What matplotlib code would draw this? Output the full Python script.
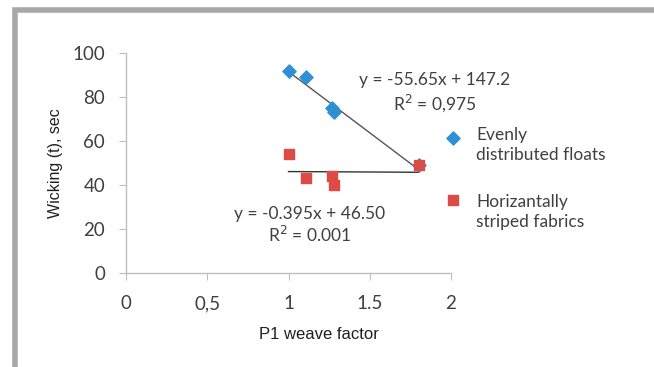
import matplotlib
matplotlib.use('Agg')
import matplotlib.pyplot as plt
from matplotlib.patches import Rectangle

# data
x_even = [1.00, 1.11, 1.27, 1.28, 1.80]
y_even = [92, 89, 75, 73, 49]
x_horiz = [1.00, 1.11, 1.27, 1.28, 1.80]
y_horiz = [54, 43, 44, 40, 49]

# trendline coefficients as printed on the chart
fit_even = (-55.65, 147.2)
fit_horiz = (-0.395, 46.50)
fit_range = [1.0, 1.8]

series_labels = ['Evenly\ndistributed floats', 'Horizantally\nstriped fabrics']
xticks = [0, 0.5, 1, 1.5, 2]
xtick_labels = ['0', '0,5', '1', '1.5', '2']
yticks = [0, 20, 40, 60, 80, 100]

BLUE = '#2f8fd3'
RED = '#dd4b45'
GREY = '#bfbfbf'
TXT = '#404040'
CAL = ['Lato', 'DejaVu Sans']
ARIAL = ['Liberation Sans', 'DejaVu Sans']

fig = plt.figure(figsize=(6.54, 3.67), dpi=100)

# outer grey frame (open at the bottom)
fig.patches.append(Rectangle((15 / 654, -0.05), (654 - 15) / 654 + 0.05, 1 - 9.5 / 367 + 0.05,
                             transform=fig.transFigure, fill=False,
                             edgecolor='#a8a8a8', linewidth=4.0))

ax = fig.add_axes([126 / 654, 1 - 273 / 367, 325 / 654, 220 / 367])
ax.set_xlim(0, 2)
ax.set_ylim(0, 100)

for (m, b), col in [(fit_even, '#555555'), (fit_horiz, '#333333')]:
    ys = [m * v + b for v in fit_range]
    ax.plot(fit_range, ys, color=col, lw=1.0, zorder=2)

ax.scatter(x_even, y_even, marker='D', s=45, color=BLUE, zorder=3)
ax.scatter(x_horiz, y_horiz, marker='s', s=45, color=RED, zorder=3)

eq_kw = dict(fontsize=12.5, family=CAL, color=TXT, ha='center', va='center')
ax.text(1.90, 87.7, 'y = -55.65x + 147.2', **eq_kw)
ax.text(1.90, 77.3, 'R$^2$ = 0,975', **eq_kw)
ax.text(1.13, 26.8, 'y = -0.395x + 46.50', **eq_kw)
ax.text(1.13, 17.5, 'R$^2$ = 0.001', **eq_kw)

# legend drawn by hand: marker level with the first line, as in Excel
for ym, yt, mk, col, lab in [(0.614, 0.614, 'D', BLUE, series_labels[0]),
                             (0.332, 0.309, 's', RED, series_labels[1])]:
    ax.scatter([1.006], [ym], marker=mk, s=45, color=col, transform=ax.transAxes, clip_on=False)
    ax.text(1.077, yt + 0.05, lab, transform=ax.transAxes, fontsize=12.5, family=CAL,
            color=TXT, ha='left', va='top', linespacing=1.3)

for s in ['top', 'right']:
    ax.spines[s].set_visible(False)
for s in ['left', 'bottom']:
    ax.spines[s].set_color(GREY)
    ax.spines[s].set_linewidth(1.0)

ax.set_xticks(xticks)
ax.set_xticklabels(xtick_labels, family=CAL, fontsize=13.5, color=TXT)
ax.set_yticks(yticks)
ax.set_yticklabels([str(v) for v in yticks], family=CAL, fontsize=13.5, color=TXT)
ax.tick_params(axis='x', length=5, color=GREY, pad=11)
ax.tick_params(axis='y', length=5, color=GREY, pad=10)

ax.set_xlabel('P1 weave factor', family=ARIAL, fontsize=12, color='#202020')
ax.xaxis.set_label_coords(0.595, -0.245)
ax.set_ylabel('Wicking (t), sec', family=ARIAL, fontsize=11.5, color='#202020')
ax.yaxis.set_label_coords(-0.195, 0.5)

fig.savefig('out.png', dpi=100)
